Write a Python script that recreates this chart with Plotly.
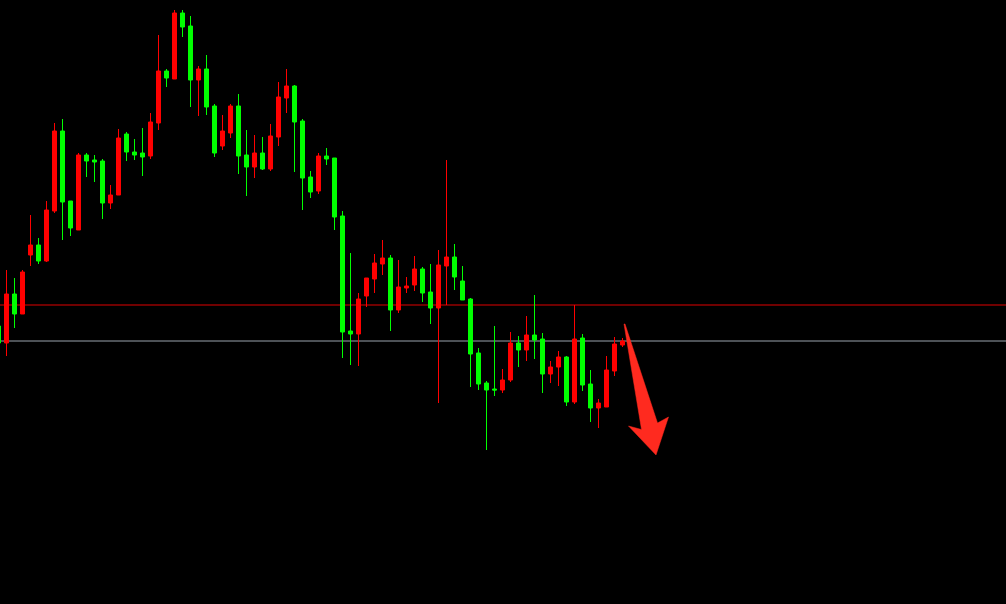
import plotly.graph_objects as go

# ---- data (price units, arbitrary scale) ----
idx = list(range(79))
opens = [674, 657, 706, 686, 745, 755, 739, 789, 869, 799,
         770, 845, 840, 839, 797, 805, 866, 848, 847, 844,
         877, 929, 921, 987, 974, 920, 931, 894, 854, 867,
         894, 845, 833, 847, 831, 863, 902, 914, 879, 823,
         809, 844, 842, 784, 669, 666, 704, 721, 736, 742,
         690, 712, 715, 731, 708, 692, 734, 743, 719, 701,
         647, 617, 611, 610, 620, 657, 650, 665, 661, 626,
         633, 643, 598, 662, 616, 592, 593, 629, 655]
highs = [678, 730, 722, 730, 785, 762, 799, 877, 881, 799,
         847, 847, 845, 841, 815, 871, 868, 861, 872, 887,
         965, 931, 990, 990, 984, 934, 945, 896, 885, 896,
         906, 870, 865, 863, 876, 918, 931, 915, 881, 829,
         847, 852, 842, 789, 747, 707, 722, 746, 760, 745,
         740, 723, 744, 733, 736, 750, 840, 756, 734, 702,
         652, 619, 674, 631, 668, 664, 684, 705, 667, 639,
         649, 644, 695, 666, 630, 601, 644, 663, 662]
lows = [654, 644, 672, 686, 734, 736, 738, 787, 760, 764,
        770, 823, 818, 781, 791, 805, 839, 840, 824, 841,
        870, 913, 921, 963, 893, 884, 885, 843, 850, 862,
        826, 804, 822, 830, 829, 854, 887, 828, 790, 802,
        806, 835, 770, 642, 635, 634, 693, 707, 725, 669,
        687, 707, 709, 698, 676, 597, 695, 710, 700, 613,
        610, 550, 604, 607, 618, 633, 639, 641, 607, 617,
        614, 594, 596, 609, 578, 572, 593, 624, 653]
closes = [657, 706, 686, 728, 755, 739, 790, 869, 798, 772,
          845, 839, 838, 797, 805, 862, 848, 845, 843, 878,
          929, 922, 987, 973, 920, 931, 893, 847, 869, 894,
          844, 833, 847, 831, 864, 903, 914, 878, 822, 808,
          844, 841, 783, 668, 666, 701, 722, 737, 742, 690,
          713, 714, 731, 707, 692, 735, 743, 723, 700, 646,
          616, 610, 610, 620, 657, 650, 665, 660, 626, 633,
          643, 598, 661, 615, 592, 597, 630, 656, 659]

level_red = 695
level_gray = 659

# arrow outline (index, price)
arrow_x = [78.1875, 78.3125, 82.375, 83.75, 82.1875, 78.75, 80.375]
arrow_y = [676, 676, 577, 583, 545, 574, 570.5]

X_RANGE = [0.1875, 125.9375]
Y_RANGE = [396, 1000]

fig = go.Figure()
fig.add_trace(go.Candlestick(
    x=idx, open=opens, high=highs, low=lows, close=closes,
    increasing=dict(line=dict(color="#ff0000", width=1), fillcolor="#ff0000"),
    decreasing=dict(line=dict(color="#00ff00", width=1), fillcolor="#00ff00"),
    whiskerwidth=0, showlegend=False, hoverinfo="skip",
))

fig.add_shape(type="line", xref="paper", x0=0, x1=1, yref="y",
              y0=level_red, y1=level_red,
              line=dict(color="#e00000", width=1), layer="below")
fig.add_shape(type="line", xref="paper", x0=0, x1=1, yref="y",
              y0=level_gray, y1=level_gray,
              line=dict(color="#9aa3ad", width=1), layer="below")

path = "M " + " L ".join(f"{x},{y}" for x, y in zip(arrow_x, arrow_y)) + " Z"
fig.add_shape(type="path", xref="x", yref="y", path=path,
              fillcolor="#ff2a1f", line=dict(color="#ff2a1f", width=0.5),
              layer="above")

fig.update_layout(
    width=1006, height=604,
    paper_bgcolor="#000000", plot_bgcolor="#000000",
    margin=dict(l=0, r=0, t=0, b=0),
    showlegend=False,
    boxgap=0.5, boxgroupgap=0,
    xaxis=dict(range=X_RANGE, visible=False, showgrid=False, zeroline=False,
               rangeslider=dict(visible=False), fixedrange=True),
    yaxis=dict(range=Y_RANGE, visible=False, showgrid=False, zeroline=False,
               fixedrange=True),
)

fig.write_html(
    "out.html",
    config={"displayModeBar": False},
    post_script="document.body.style.margin='0';document.body.style.padding='0';"
                "document.body.style.background='#000';"
                "document.documentElement.style.background='#000';"
                "document.body.style.overflow='hidden';",
)
